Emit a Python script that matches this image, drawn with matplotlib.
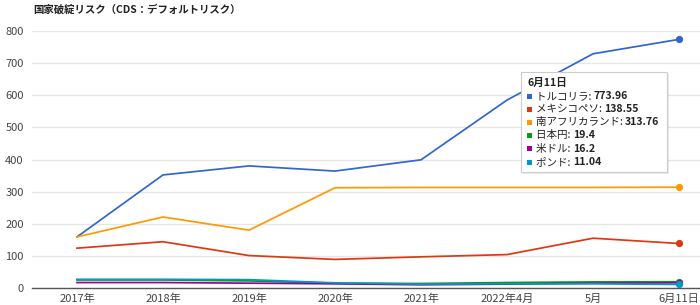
import matplotlib
matplotlib.use("Agg")
import matplotlib.pyplot as plt
from matplotlib.patches import Rectangle

plt.rcParams['font.family'] = ['Noto Sans CJK JP', 'DejaVu Sans']

title = "国家破綻リスク（CDS：デフォルトリスク）"
categories = ["2017年", "2018年", "2019年", "2020年", "2021年", "2022年4月", "5月", "6月11日"]
series_names = ["トルコリラ", "メキシコペソ", "南アフリカランド", "日本円", "米ドル", "ポンド"]
try_lira = [159, 352, 380, 364, 399, 585, 729, 773.96]
mxn_peso = [124, 144, 101, 89, 97, 104, 155, 138.55]
zar_rand = [159, 221, 180, 312, 313, 313, 313, 313.76]
jpy_yen = [25, 25, 22, 15, 14, 17, 19, 19.4]
usd = [17, 17, 15, 13, 10, 12, 15, 16.2]
gbp = [27, 27, 26, 16, 12, 13, 13, 11.04]
series_values = [try_lira, mxn_peso, zar_rand, jpy_yen, usd, gbp]
colors = ["#3366cc", "#dc3912", "#ff9900", "#109618", "#990099", "#0099c6"]
y_ticks = [0, 100, 200, 300, 400, 500, 600, 700, 800]

W, H = 700, 305
fig = plt.figure(figsize=(7, 3.05), dpi=100)
ax = fig.add_axes([32 / W, 1 - 288 / H, 1 - 32 / W, (288 - 31) / H])

x = list(range(len(categories)))
draw_order = [2, 1, 0, 3, 4, 5]
for i in draw_order:
    ax.plot(x, series_values[i], color=colors[i], lw=1.25, zorder=3 + i * 0.1,
            solid_joinstyle='round')
    ax.plot([x[-1]], [series_values[i][-1]], 'o', color=colors[i], ms=4.2, zorder=4 + i * 0.1)

ax.set_xlim(-0.523, 7.244)
ax.set_ylim(0, 800)
ax.set_yticks(y_ticks)
ax.set_xticks(x)
ax.set_xticklabels(categories)
ax.tick_params(axis='both', length=0, labelsize=8, colors='#444444')
ax.tick_params(axis='y', pad=6)
ax.tick_params(axis='x', pad=4)
ax.grid(axis='y', color='#e6e6e6', lw=0.9)
ax.set_axisbelow(True)
for s in ['top', 'right', 'left']:
    ax.spines[s].set_visible(False)
ax.spines['bottom'].set_color('#555555')
ax.spines['bottom'].set_linewidth(1.0)

fig.text(33 / W, 1 - 9 / H, title, fontsize=7.5, fontweight='bold', color='#222222',
         ha='left', va='center')

# tooltip
bx0, by0, bx1, by1 = 521, 72, 667, 172
shadow = Rectangle(((bx0 + 1.5) / W, 1 - (by1 + 1.5) / H), (bx1 - bx0) / W, (by1 - by0) / H,
                   transform=fig.transFigure, facecolor='#000000', alpha=0.08,
                   edgecolor='none', zorder=9)
fig.patches.append(shadow)
box = Rectangle((bx0 / W, 1 - by1 / H), (bx1 - bx0) / W, (by1 - by0) / H,
                transform=fig.transFigure, facecolor='white', edgecolor='#cccccc',
                lw=0.8, zorder=10)
fig.patches.append(box)
fig.text(528 / W, 1 - 83 / H, categories[-1], fontsize=7.6, fontweight='bold',
         color='#222222', ha='left', va='center', zorder=11)
row_y = [96, 109, 122, 135, 149, 162]
fig.canvas.draw()
r = fig.canvas.get_renderer()
for i, name in enumerate(series_names):
    yy = 1 - row_y[i] / H
    fig.patches.append(Rectangle((527 / W, yy - 2.5 / H), 5 / W, 5 / H, transform=fig.transFigure,
                                 facecolor=colors[i], edgecolor='none', zorder=11))
    t = fig.text(536 / W, yy, name + ": ", fontsize=7.6, color='#222222',
                 ha='left', va='center', zorder=11)
    bb = t.get_window_extent(renderer=r)
    fig.text(bb.x1 / W, yy, f"{series_values[i][-1]:g}", fontsize=7.6, fontweight='bold',
             color='#222222', ha='left', va='center', zorder=11)

fig.savefig("out.png", dpi=100)
